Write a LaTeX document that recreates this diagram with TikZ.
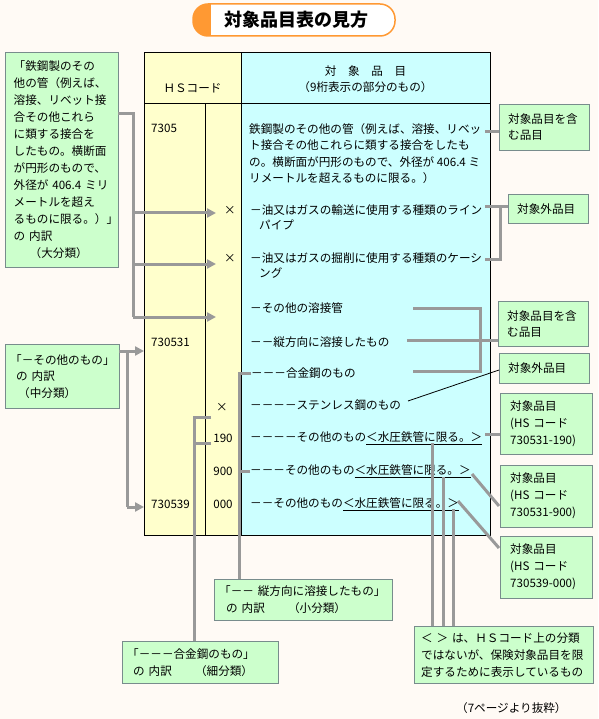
\documentclass[tikz,border=0pt]{standalone}
\usepackage{fontspec}
\setmainfont{Noto Sans CJK JP}
\usetikzlibrary{arrows.meta}

\definecolor{bgpaper}{RGB}{255,250,245}
\definecolor{hsyellow}{RGB}{255,255,204}
\definecolor{itemcyan}{RGB}{204,255,255}
\definecolor{notegreen}{RGB}{204,255,204}
\definecolor{noteedge}{RGB}{120,140,140}
\definecolor{linkgray}{RGB}{153,153,153}
\definecolor{titleorange}{RGB}{255,153,51}

\tikzset{
  txt/.style={anchor=west, inner sep=0pt, font=\fontsize{11.6}{15}\selectfont},
  note/.style={draw=noteedge, fill=notegreen, anchor=north west, align=left, inner ysep=0pt, font=\fontsize{11.6}{17}\selectfont},
  link/.style={draw=linkgray, line width=3pt},
  linkarrow/.style={link, -{Triangle[length=9pt,width=9pt]}}
}

\begin{document}
\begin{tikzpicture}[x=1pt,y=-1pt]
    \useasboundingbox[fill=bgpaper] (0,0) rectangle (598,719);

    % title
    \begin{scope}
        \clip[rounded corners=15pt] (193,4) rectangle (395,36);
        \fill[white] (193,4) rectangle (395,36);
        \fill[titleorange] (193,4) rectangle (211,36);
    \end{scope}
    \draw[titleorange, line width=1.5pt, rounded corners=15pt] (193,4) rectangle (395,36);
    \node[font=\fontsize{18}{18}\selectfont\bfseries] (title) at (296,20) {対象品目表の見方};

    % table
    \fill[hsyellow] (144,53) rectangle (241,535);                 % HS code
    \fill[itemcyan] (241,53) rectangle (490,535);                 % items
    \draw[line width=1pt] (144,53) rectangle (490,535);
    \draw[line width=1pt] (241,53) -- (241,535);
    \draw[line width=1pt] (144,104) -- (490,104);
    \draw[line width=1pt] (205,104) -- (205,535);

    \node[txt, anchor=center] (hshead) at (192.5,88) {ＨＳコード};
    \node[txt, anchor=center, align=center, font=\fontsize{11.6}{16}\selectfont] (itemhead) at (365.5,79) {対　象　品　目\\（9桁表示の部分のもの）};

    \node[txt] (hs7305) at (151,128) {7305};
    \node[txt] (hs730531) at (151,342) {730531};
    \node[txt] (hs730539) at (151,504) {730539};
    \node[txt, anchor=center] (crossA) at (230,210) {×};
    \node[txt, anchor=center] (crossB) at (230,258) {×};
    \node[txt, anchor=center] (crossC) at (222,407) {×};
    \node[txt, anchor=center] (sub190) at (223,438) {190};
    \node[txt, anchor=center] (sub900) at (223,471) {900};
    \node[txt, anchor=center] (sub000) at (223,504) {000};

    \node[txt, align=left, font=\fontsize{11.6}{16.3}\selectfont] (pipes) at (249,153.5) {鉄鋼製のその他の管（例えば、溶接、リベッ\\ト接合その他これらに類する接合をしたも\\の。横断面が円形のもので、外径が 406.4 ミ\\リメートルを超えるものに限る。）};
    \node[txt, align=left] (linepipe) at (250,217.5) {－油又はガスの輸送に使用する種類のライン\\\hspace*{9pt}パイプ};
    \node[txt, align=left] (casing) at (250,265.5) {－油又はガスの掘削に使用する種類のケーシ\\\hspace*{9pt}ング};
    \node[txt] (welded) at (250,308) {－その他の溶接管};
    \node[txt] (longit) at (250,342) {－－縦方向に溶接したもの};
    \node[txt] (alloy) at (251,373) {－－－合金鋼のもの};
    \node[txt] (stainless) at (250,405) {－－－－ステンレス鋼のもの};
    \node[txt] (other190) at (250,438) {－－－－その他のもの\underline{＜水圧鉄管に限る。＞}};
    \node[txt] (other900) at (250,471) {－－－その他のもの\underline{＜水圧鉄管に限る。＞}};
    \node[txt] (other000) at (250,504) {－－その他のもの\underline{＜水圧鉄管に限る。＞}};

    % notes on the left
    \node[note, minimum width=113pt, minimum height=215pt, text width=96pt, inner xsep=8.5pt] (bigcat) at (5,52) {「鉄鋼製のその\\他の管（例えば、\\溶接、リベット接\\合その他これら\\に類する接合を\\したもの。横断面\\が円形のもので、\\外径が 406.4 ミリ\\メートルを超え\\るものに限る。）」\\の 内訳\\\hspace*{16pt}（大分類）};
    \node[note, minimum width=114pt, minimum height=64pt, text width=104pt, inner xsep=5pt, font=\fontsize{11.6}{16.5}\selectfont] (midcat) at (5,344) {「－その他のもの」\\\hspace*{6pt}の 内訳\\\hspace*{8pt}（中分類）};
    \node[note, minimum width=178pt, minimum height=41pt, text width=168pt, inner xsep=5pt] (smallcat) at (214,579) {「－－ 縦方向に溶接したもの」\\\hspace*{7pt}の 内訳　　（小分類）};
    \node[note, minimum width=156pt, minimum height=42pt, text width=146pt, inner xsep=5pt] (finecat) at (122,641) {「－－－合金鋼のもの」\\\hspace*{6pt}の 内訳　　（細分類）};

    % notes on the right
    \node[note, minimum width=90pt, minimum height=46pt, text width=72pt, inner xsep=9pt, font=\fontsize{11.6}{16}\selectfont] (inclA) at (499,104) {対象品目を含\\む品目};
    \node[note, minimum width=80pt, minimum height=29pt, text width=62pt, inner xsep=9pt] (exclA) at (508,194) {対象外品目};
    \node[note, minimum width=90pt, minimum height=45pt, text width=72pt, inner xsep=9pt, font=\fontsize{11.6}{16}\selectfont] (inclB) at (498,301) {対象品目を含\\む品目};
    \node[note, minimum width=90pt, minimum height=30pt, text width=72pt, inner xsep=9pt] (exclB) at (499,353) {対象外品目};
    \node[note, minimum width=92pt, minimum height=61pt, text width=72pt, inner xsep=10pt] (code190) at (500,393) {対象品目\\(HS コード\\730531-190)};
    \node[note, minimum width=92pt, minimum height=62pt, text width=72pt, inner xsep=10pt] (code900) at (500,465) {対象品目\\(HS コード\\730531-900)};
    \node[note, minimum width=92pt, minimum height=62pt, text width=72pt, inner xsep=10pt] (code000) at (500,536) {対象品目\\(HS コード\\730539-000)};
    \node[note, minimum width=179pt, minimum height=57pt, text width=165pt, inner xsep=7pt] (bracketnote) at (414,626) {＜ ＞ は、ＨＳコード上の分類\\ではないが、保険対象品目を限\\定するために表示しているもの};

    \node[txt] (source) at (456,708) {（7ページより抜粋）};

    % connectors on the left
    \coordinate (bigtrunk) at (133,114);
    \coordinate (tipA) at (216,213);
    \coordinate (tipB) at (216,264);
    \coordinate (tipC) at (216,317);
    \draw[link] (bigtrunk -| bigcat.east) -- (bigtrunk) -- (bigtrunk |- tipC);
    \draw[linkarrow] (bigtrunk |- tipA) -- (tipA);
    \draw[linkarrow] (bigtrunk |- tipB) -- (tipB);
    \draw[linkarrow] (bigtrunk |- tipC) -- (tipC);

    \coordinate (midtrunk) at (127,351);
    \coordinate (tipD) at (144,351);
    \coordinate (tipE) at (144,507);
    \draw[linkarrow] (midtrunk -| midcat.east) -- (tipD);
    \draw[link] (midtrunk) -- (midtrunk |- tipE);
    \draw[linkarrow] (midtrunk |- tipE) -- (tipE);

    \coordinate (finetrunk) at (194,417);
    \draw[link] (211,417) -- (finetrunk) -- (finetrunk |- finecat.north);
    \draw[link] (211,443) -- (finetrunk |- 211,443);

    \coordinate (smalltrunk) at (239,373);
    \draw[link] (alloy.west) -- (smalltrunk) -- (smalltrunk |- smallcat.north);
    \draw[link] (other900.west) -- (smalltrunk |- other900.west);

    % connectors on the right
    \coordinate (pipesend) at (485,132);
    \draw[link] (pipesend) -- (pipesend -| inclA.west);

    \coordinate (excltrunk) at (500,207);
    \draw[link] (485,207) -- (excltrunk -| exclA.west);
    \draw[link] (excltrunk) -- (500,259) -- (485,259);

    \coordinate (incltrunk) at (480,308);
    \draw[link] (413,308) -- (incltrunk) -- (480,371) -- (413,371);
    \draw[link] (407,340) -- (inclB.west |- 407,340);

    \draw[line width=0.8pt] (408,401) -- (exclB.west |- 408,370);

    \coordinate (end190) at (485,434);
    \draw[link] (end190) -- (end190 -| code190.west);
    \draw[link] (472,474) -- (499,506);
    \draw[link] (458,501) -- (499,548);

    \coordinate (mark190) at (432,443);
    \coordinate (mark900) at (443,477);
    \coordinate (mark000) at (453,509);
    \draw[link] (mark190) -- (mark190 |- bracketnote.north);
    \draw[link] (mark900) -- (mark900 |- bracketnote.north);
    \draw[link] (mark000) -- (mark000 |- bracketnote.north);

\end{tikzpicture}
\end{document}
